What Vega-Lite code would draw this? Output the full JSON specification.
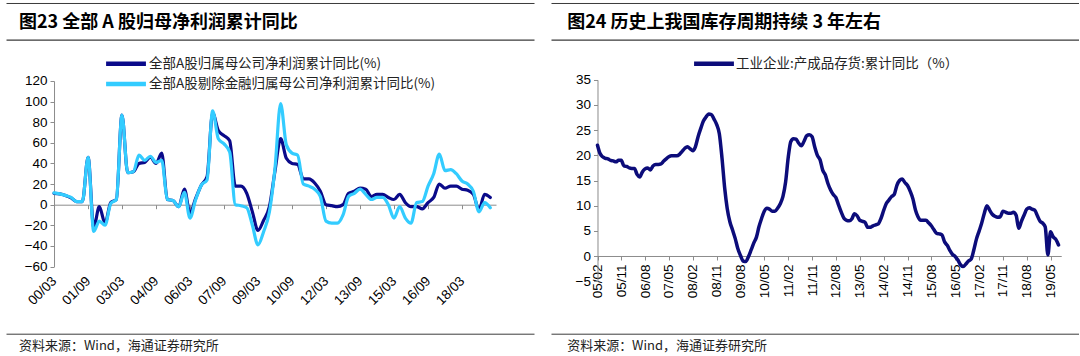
{
  "$schema": "https://vega.github.io/schema/vega-lite/v6.json",
  "padding": {"left": 3, "top": 3, "right": 0, "bottom": 0},
  "background": "#ffffff",
  "config": {
    "view": {"stroke": null},
    "axis": {"labelFont": "Liberation Sans", "labelFontSize": 13.5, "labelColor": "#000000", "grid": false, "domainColor": "#8c8c8c", "tickColor": "#8c8c8c"},
    "legend": {"labelFont": "Noto Sans CJK SC", "labelFontSize": 13.5, "labelColor": "#222222", "padding": 0, "labelLimit": 0}
  },
  "resolve": {"scale": {"color": "independent"}},
  "spacing": 14,
  "datasets": {
    "left": [
      {"d": "2000-03", "a": 11, "b": 11.5}, {"d": "2000-06", "a": 10.5, "b": 10.5}, {"d": "2000-09", "a": 9, "b": 9}, {"d": "2000-12", "a": 6.5, "b": 7},
      {"d": "2001-03", "a": 3, "b": 3}, {"d": "2001-06", "a": 3, "b": 3}, {"d": "2001-09", "a": 46, "b": 46}, {"d": "2001-12", "a": -22, "b": -26},
      {"d": "2002-03", "a": -2, "b": -16}, {"d": "2002-06", "a": -18, "b": -20}, {"d": "2002-09", "a": 2, "b": 1}, {"d": "2002-12", "a": 5, "b": 5},
      {"d": "2003-03", "a": 87, "b": 87}, {"d": "2003-06", "a": 31, "b": 31}, {"d": "2003-09", "a": 32, "b": 32}, {"d": "2003-12", "a": 40, "b": 48},
      {"d": "2004-03", "a": 41, "b": 43}, {"d": "2004-06", "a": 46, "b": 47}, {"d": "2004-09", "a": 40, "b": 41}, {"d": "2004-12", "a": 50, "b": 43},
      {"d": "2005-03", "a": 5, "b": 5}, {"d": "2005-06", "a": 4, "b": 4}, {"d": "2005-09", "a": -2, "b": -2}, {"d": "2005-12", "a": 15, "b": 12},
      {"d": "2006-03", "a": -8, "b": -13}, {"d": "2006-06", "a": 6, "b": 5}, {"d": "2006-09", "a": 19, "b": 19}, {"d": "2006-12", "a": 27, "b": 24},
      {"d": "2007-03", "a": 89, "b": 91}, {"d": "2007-06", "a": 72, "b": 64}, {"d": "2007-09", "a": 67, "b": 59}, {"d": "2007-12", "a": 62, "b": 51},
      {"d": "2008-03", "a": 18, "b": 0}, {"d": "2008-06", "a": 18, "b": -1}, {"d": "2008-09", "a": 11, "b": -3}, {"d": "2008-12", "a": -7, "b": -20},
      {"d": "2009-03", "a": -25, "b": -39}, {"d": "2009-06", "a": -15, "b": -26}, {"d": "2009-09", "a": -2, "b": -7}, {"d": "2009-12", "a": 33, "b": 36},
      {"d": "2010-03", "a": 64, "b": 98}, {"d": "2010-06", "a": 45, "b": 58}, {"d": "2010-09", "a": 40, "b": 50}, {"d": "2010-12", "a": 39, "b": 48},
      {"d": "2011-03", "a": 25, "b": 20}, {"d": "2011-06", "a": 25, "b": 18}, {"d": "2011-09", "a": 21, "b": 15}, {"d": "2011-12", "a": 13, "b": 8},
      {"d": "2012-03", "a": 0, "b": -16}, {"d": "2012-06", "a": -1, "b": -18}, {"d": "2012-09", "a": -2, "b": -18}, {"d": "2012-12", "a": 0, "b": -10},
      {"d": "2013-03", "a": 11, "b": 8}, {"d": "2013-06", "a": 13, "b": 11}, {"d": "2013-09", "a": 16, "b": 15}, {"d": "2013-12", "a": 15, "b": 10},
      {"d": "2014-03", "a": 8, "b": 5}, {"d": "2014-06", "a": 10, "b": 7}, {"d": "2014-09", "a": 10, "b": 7}, {"d": "2014-12", "a": 7, "b": 0},
      {"d": "2015-03", "a": 5, "b": -13}, {"d": "2015-06", "a": 10, "b": -2}, {"d": "2015-09", "a": 2, "b": -13}, {"d": "2015-12", "a": -2, "b": -18},
      {"d": "2016-03", "a": -2, "b": 2}, {"d": "2016-06", "a": -4, "b": 3}, {"d": "2016-09", "a": 2, "b": 18}, {"d": "2016-12", "a": 7, "b": 30},
      {"d": "2017-03", "a": 20, "b": 49}, {"d": "2017-06", "a": 16, "b": 33}, {"d": "2017-09", "a": 18, "b": 34}, {"d": "2017-12", "a": 18, "b": 30},
      {"d": "2018-03", "a": 15, "b": 23}, {"d": "2018-06", "a": 14, "b": 20}, {"d": "2018-09", "a": 10, "b": 13}, {"d": "2018-12", "a": -5, "b": -7},
      {"d": "2019-03", "a": 10, "b": 2}, {"d": "2019-06", "a": 7, "b": -3}
    ],
    "right": [
      {"d": "2005-02", "v": 22.0}, {"d": "2005-03", "v": 20.4}, {"d": "2005-04", "v": 19.7}, {"d": "2005-05", "v": 19.4}, {"d": "2005-06", "v": 19.3}, {"d": "2005-07", "v": 19.0}, {"d": "2005-08", "v": 18.9}, {"d": "2005-09", "v": 18.7}, {"d": "2005-10", "v": 19.0}, {"d": "2005-11", "v": 19.0}, {"d": "2005-12", "v": 17.9},
      {"d": "2006-01", "v": 17.8}, {"d": "2006-02", "v": 17.5}, {"d": "2006-03", "v": 17.4}, {"d": "2006-04", "v": 17.4}, {"d": "2006-05", "v": 16.2}, {"d": "2006-06", "v": 15.7}, {"d": "2006-07", "v": 16.7}, {"d": "2006-08", "v": 17.3}, {"d": "2006-09", "v": 17.5}, {"d": "2006-10", "v": 17.1}, {"d": "2006-11", "v": 17.9}, {"d": "2006-12", "v": 18.2},
      {"d": "2007-01", "v": 18.2}, {"d": "2007-02", "v": 18.3}, {"d": "2007-03", "v": 18.8}, {"d": "2007-04", "v": 19.3}, {"d": "2007-05", "v": 19.7}, {"d": "2007-06", "v": 19.9}, {"d": "2007-07", "v": 19.9}, {"d": "2007-08", "v": 19.9}, {"d": "2007-09", "v": 20.2}, {"d": "2007-10", "v": 20.8}, {"d": "2007-11", "v": 21.4}, {"d": "2007-12", "v": 21.7},
      {"d": "2008-01", "v": 21.3}, {"d": "2008-02", "v": 20.9}, {"d": "2008-03", "v": 21.7}, {"d": "2008-04", "v": 23.7}, {"d": "2008-05", "v": 25.3}, {"d": "2008-06", "v": 26.8}, {"d": "2008-07", "v": 27.6}, {"d": "2008-08", "v": 28.2}, {"d": "2008-09", "v": 28.1}, {"d": "2008-10", "v": 27.2}, {"d": "2008-11", "v": 26.1}, {"d": "2008-12", "v": 24.3},
      {"d": "2009-01", "v": 19.4}, {"d": "2009-02", "v": 13.4}, {"d": "2009-03", "v": 9.5}, {"d": "2009-04", "v": 6.8}, {"d": "2009-05", "v": 5.2}, {"d": "2009-06", "v": 3.5}, {"d": "2009-07", "v": 1.5}, {"d": "2009-08", "v": 0.1}, {"d": "2009-09", "v": -1.0}, {"d": "2009-10", "v": -1.1}, {"d": "2009-11", "v": -0.1}, {"d": "2009-12", "v": 1.2},
      {"d": "2010-01", "v": 2.6}, {"d": "2010-02", "v": 3.8}, {"d": "2010-03", "v": 5.8}, {"d": "2010-04", "v": 7.5}, {"d": "2010-05", "v": 8.9}, {"d": "2010-06", "v": 9.5}, {"d": "2010-07", "v": 9.3}, {"d": "2010-08", "v": 8.9}, {"d": "2010-09", "v": 8.9}, {"d": "2010-10", "v": 9.5}, {"d": "2010-11", "v": 10.4}, {"d": "2010-12", "v": 11.8},
      {"d": "2011-01", "v": 14.7}, {"d": "2011-02", "v": 19.7}, {"d": "2011-03", "v": 22.7}, {"d": "2011-04", "v": 23.3}, {"d": "2011-05", "v": 23.2}, {"d": "2011-06", "v": 22.4}, {"d": "2011-07", "v": 21.9}, {"d": "2011-08", "v": 22.8}, {"d": "2011-09", "v": 23.9}, {"d": "2011-10", "v": 24.1}, {"d": "2011-11", "v": 23.7}, {"d": "2011-12", "v": 21.7},
      {"d": "2012-01", "v": 20.0}, {"d": "2012-02", "v": 19.1}, {"d": "2012-03", "v": 17.1}, {"d": "2012-04", "v": 16.1}, {"d": "2012-05", "v": 14.4}, {"d": "2012-06", "v": 13.1}, {"d": "2012-07", "v": 12.2}, {"d": "2012-08", "v": 11.6}, {"d": "2012-09", "v": 10.1}, {"d": "2012-10", "v": 8.7}, {"d": "2012-11", "v": 7.5}, {"d": "2012-12", "v": 7.1},
      {"d": "2013-01", "v": 7.0}, {"d": "2013-02", "v": 7.4}, {"d": "2013-03", "v": 8.4}, {"d": "2013-04", "v": 8.0}, {"d": "2013-05", "v": 7.1}, {"d": "2013-06", "v": 6.9}, {"d": "2013-07", "v": 6.7}, {"d": "2013-08", "v": 5.7}, {"d": "2013-09", "v": 5.7}, {"d": "2013-10", "v": 6.0}, {"d": "2013-11", "v": 6.2}, {"d": "2013-12", "v": 6.4},
      {"d": "2014-01", "v": 7.5}, {"d": "2014-02", "v": 9.1}, {"d": "2014-03", "v": 10.4}, {"d": "2014-04", "v": 11.1}, {"d": "2014-05", "v": 11.8}, {"d": "2014-06", "v": 12.2}, {"d": "2014-07", "v": 14.0}, {"d": "2014-08", "v": 15.0}, {"d": "2014-09", "v": 15.3}, {"d": "2014-10", "v": 14.6}, {"d": "2014-11", "v": 14.0}, {"d": "2014-12", "v": 12.9},
      {"d": "2015-01", "v": 11.4}, {"d": "2015-02", "v": 9.1}, {"d": "2015-03", "v": 7.8}, {"d": "2015-04", "v": 7.1}, {"d": "2015-05", "v": 7.1}, {"d": "2015-06", "v": 7.1}, {"d": "2015-07", "v": 6.6}, {"d": "2015-08", "v": 6.0}, {"d": "2015-09", "v": 5.2}, {"d": "2015-10", "v": 4.5}, {"d": "2015-11", "v": 4.4}, {"d": "2015-12", "v": 4.2},
      {"d": "2016-01", "v": 2.8}, {"d": "2016-02", "v": 2.1}, {"d": "2016-03", "v": 1.1}, {"d": "2016-04", "v": 0.3}, {"d": "2016-05", "v": -0.1}, {"d": "2016-06", "v": -0.8}, {"d": "2016-07", "v": -1.7}, {"d": "2016-08", "v": -2.1}, {"d": "2016-09", "v": -1.6}, {"d": "2016-10", "v": -1.0}, {"d": "2016-11", "v": -0.6}, {"d": "2016-12", "v": 1.2},
      {"d": "2017-01", "v": 3.4}, {"d": "2017-02", "v": 5.0}, {"d": "2017-03", "v": 6.5}, {"d": "2017-04", "v": 8.5}, {"d": "2017-05", "v": 10.0}, {"d": "2017-06", "v": 9.1}, {"d": "2017-07", "v": 8.3}, {"d": "2017-08", "v": 7.9}, {"d": "2017-09", "v": 7.7}, {"d": "2017-10", "v": 7.8}, {"d": "2017-11", "v": 8.9}, {"d": "2017-12", "v": 8.7},
      {"d": "2018-01", "v": 8.5}, {"d": "2018-02", "v": 8.5}, {"d": "2018-03", "v": 8.7}, {"d": "2018-04", "v": 8.1}, {"d": "2018-05", "v": 5.5}, {"d": "2018-06", "v": 6.9}, {"d": "2018-07", "v": 8.1}, {"d": "2018-08", "v": 9.3}, {"d": "2018-09", "v": 9.6}, {"d": "2018-10", "v": 9.3}, {"d": "2018-11", "v": 9.1}, {"d": "2018-12", "v": 8.0},
      {"d": "2019-01", "v": 6.9}, {"d": "2019-02", "v": 6.5}, {"d": "2019-03", "v": 5.8}, {"d": "2019-04", "v": 0.2}, {"d": "2019-05", "v": 4.8}, {"d": "2019-06", "v": 3.8}, {"d": "2019-07", "v": 3.3}, {"d": "2019-08", "v": 2.2}
    ],
    "frame": [{"f": 0}]
  },
  "hconcat": [
    {
      "width": 528,
      "height": 330.7,
      "resolve": {"scale": {"x": "independent"}, "axis": {"x": "independent"}},
      "layer": [
        {
          "data": {"name": "left"},
          "transform": [{"fold": ["a", "b"], "as": ["k", "val"]}],
          "mark": {"type": "line", "interpolate": "monotone", "strokeWidth": 3.2, "strokeCap": "round", "strokeJoin": "round"},
          "encoding": {
            "x": {
              "field": "d", "type": "temporal",
              "scale": {"type": "utc", "domain": [{"year": 2000, "month": 3, "date": 1, "utc": true}, {"year": 2019, "month": 9, "date": 1, "utc": true}], "range": [48, 490]},
              "axis": {
                "orient": "bottom", "offset": -67.2, "domain": false, "ticks": false, "title": null,
                "format": "%y/%m", "labelAngle": -45, "labelAlign": "right", "labelBaseline": "middle", "labelPadding": 12,
                "values": [
                  {"year": 2000, "month": 3, "date": 1, "utc": true}, {"year": 2001, "month": 9, "date": 1, "utc": true},
                  {"year": 2003, "month": 3, "date": 1, "utc": true}, {"year": 2004, "month": 9, "date": 1, "utc": true},
                  {"year": 2006, "month": 3, "date": 1, "utc": true}, {"year": 2007, "month": 9, "date": 1, "utc": true},
                  {"year": 2009, "month": 3, "date": 1, "utc": true}, {"year": 2010, "month": 9, "date": 1, "utc": true},
                  {"year": 2012, "month": 3, "date": 1, "utc": true}, {"year": 2013, "month": 9, "date": 1, "utc": true},
                  {"year": 2015, "month": 3, "date": 1, "utc": true}, {"year": 2016, "month": 9, "date": 1, "utc": true},
                  {"year": 2018, "month": 3, "date": 1, "utc": true}
                ]
              }
            },
            "y": {
              "field": "val", "type": "quantitative",
              "scale": {"domain": [-60, 120], "range": [263.5, 78], "nice": false, "zero": false},
              "axis": {"offset": -48, "values": [-60, -40, -20, 0, 20, 40, 60, 80, 100, 120], "tickSize": 4, "labelPadding": 3, "title": null}
            },
            "color": {
              "field": "k", "type": "nominal",
              "scale": {"domain": ["a", "b"], "range": ["#0a0a8a", "#33ccff"]},
              "legend": {
                "orient": "none", "legendX": 109, "legendY": 49.7, "title": null, "direction": "vertical",
                "symbolType": "M-2.3,0H2.3", "symbolSize": 300, "symbolStrokeWidth": 4.5, "labelOffset": 12, "rowPadding": 0.3,
                "labelExpr": "datum.value == 'a' ? '全部A股归属母公司净利润累计同比(%)' : '全部A股剔除金融归属母公司净利润累计同比(%)'"
              }
            }
          }
        },
        {
          "data": {"name": "left"},
          "mark": {"type": "point", "opacity": 0},
          "encoding": {
            "x": {
              "field": "d", "type": "temporal",
              "scale": {"type": "utc", "domain": [{"year": 2000, "month": 3, "date": 1, "utc": true}, {"year": 2019, "month": 9, "date": 1, "utc": true}], "range": [48, 490]},
              "axis": {
                "orient": "bottom", "offset": -129, "labels": false, "tickSize": 4, "title": null,
                "values": [
                  {"year": 2000, "month": 3, "date": 1, "utc": true}, {"year": 2001, "month": 9, "date": 1, "utc": true},
                  {"year": 2003, "month": 3, "date": 1, "utc": true}, {"year": 2004, "month": 9, "date": 1, "utc": true},
                  {"year": 2006, "month": 3, "date": 1, "utc": true}, {"year": 2007, "month": 9, "date": 1, "utc": true},
                  {"year": 2009, "month": 3, "date": 1, "utc": true}, {"year": 2010, "month": 9, "date": 1, "utc": true},
                  {"year": 2012, "month": 3, "date": 1, "utc": true}, {"year": 2013, "month": 9, "date": 1, "utc": true},
                  {"year": 2015, "month": 3, "date": 1, "utc": true}, {"year": 2016, "month": 9, "date": 1, "utc": true},
                  {"year": 2018, "month": 3, "date": 1, "utc": true}
                ]
              }
            }
          }
        },
        {
          "data": {"name": "frame"},
          "mark": {"type": "point", "opacity": 0},
          "encoding": {"x": {"field": "f", "type": "quantitative", "scale": {"domain": [0, 1]},
            "axis": {"orient": "top", "offset": 0, "labels": false, "ticks": false, "title": null, "domainColor": "#3a3a3a", "domainWidth": 1}}}
        },
        {
          "data": {"name": "frame"},
          "mark": {"type": "point", "opacity": 0},
          "encoding": {"x": {"field": "f", "type": "quantitative", "scale": {"domain": [0, 1]},
            "axis": {"orient": "top", "offset": -36.6, "labels": false, "ticks": false, "domainColor": "#3a3a3a", "domainWidth": 1.3,
              "title": "图23 全部 A 股归母净利润累计同比", "titleX": 12.5, "titleY": -17, "titleAlign": "left", "titleBaseline": "middle", "titleAngle": 0,
              "titleFont": "Noto Sans CJK SC", "titleFontSize": 18, "titleFontWeight": "bold", "titleColor": "#000000"}}}
        },
        {
          "data": {"name": "frame"},
          "mark": {"type": "point", "opacity": 0},
          "encoding": {"x": {"field": "f", "type": "quantitative", "scale": {"domain": [0, 1]},
            "axis": {"orient": "bottom", "offset": 0, "labels": false, "ticks": false, "domainColor": "#3a3a3a", "domainWidth": 1,
              "title": "资料来源：Wind，海通证券研究所", "titleX": 12.5, "titleY": 11.5, "titleAlign": "left", "titleBaseline": "middle", "titleAngle": 0,
              "titleFont": "Noto Sans CJK SC", "titleFontSize": 13, "titleFontWeight": "normal", "titleColor": "#222222"}}}
        }
      ]
    },
    {
      "width": 528,
      "height": 330.7,
      "resolve": {"scale": {"x": "independent"}, "axis": {"x": "independent"}},
      "layer": [
        {
          "data": {"name": "right"},
          "transform": [{"fold": ["v"], "as": ["k", "val"]}],
          "mark": {"type": "line", "interpolate": "monotone", "strokeWidth": 3.5, "strokeCap": "round", "strokeJoin": "round"},
          "encoding": {
            "x": {
              "field": "d", "type": "temporal",
              "scale": {"type": "utc", "domain": [{"year": 2005, "month": 2, "date": 1, "utc": true}, {"year": 2019, "month": 9, "date": 1, "utc": true}], "range": [46.5, 510.25]},
              "axis": {
                "orient": "bottom", "offset": -77.7, "tickSize": 4, "title": null,
                "format": "%y/%m", "labelAngle": -90, "labelAlign": "right", "labelBaseline": "middle", "labelPadding": 4,
                "values": [
                  {"year": 2005, "month": 2, "date": 1, "utc": true}, {"year": 2005, "month": 11, "date": 1, "utc": true},
                  {"year": 2006, "month": 8, "date": 1, "utc": true}, {"year": 2007, "month": 5, "date": 1, "utc": true},
                  {"year": 2008, "month": 2, "date": 1, "utc": true}, {"year": 2008, "month": 11, "date": 1, "utc": true},
                  {"year": 2009, "month": 8, "date": 1, "utc": true}, {"year": 2010, "month": 5, "date": 1, "utc": true},
                  {"year": 2011, "month": 2, "date": 1, "utc": true}, {"year": 2011, "month": 11, "date": 1, "utc": true},
                  {"year": 2012, "month": 8, "date": 1, "utc": true}, {"year": 2013, "month": 5, "date": 1, "utc": true},
                  {"year": 2014, "month": 2, "date": 1, "utc": true}, {"year": 2014, "month": 11, "date": 1, "utc": true},
                  {"year": 2015, "month": 8, "date": 1, "utc": true}, {"year": 2016, "month": 5, "date": 1, "utc": true},
                  {"year": 2017, "month": 2, "date": 1, "utc": true}, {"year": 2017, "month": 11, "date": 1, "utc": true},
                  {"year": 2018, "month": 8, "date": 1, "utc": true}, {"year": 2019, "month": 5, "date": 1, "utc": true}
                ]
              }
            },
            "y": {
              "field": "val", "type": "quantitative",
              "scale": {"domain": [-5, 35], "range": [278.2, 76.8], "nice": false, "zero": false},
              "axis": {"offset": -46.5, "values": [-5, 0, 5, 10, 15, 20, 25, 30, 35], "tickSize": 4, "labelPadding": 3, "title": null}
            },
            "color": {
              "field": "k", "type": "nominal",
              "scale": {"domain": ["v"], "range": ["#0c0c7a"]},
              "legend": {
                "orient": "none", "legendX": 152, "legendY": 49.7, "title": null,
                "symbolType": "M-2.3,0H2.3", "symbolSize": 300, "symbolStrokeWidth": 4.5, "labelOffset": 11,
                "labelExpr": "'工业企业:产成品存货:累计同比（%）'"
              }
            }
          }
        },
        {
          "data": {"name": "frame"},
          "mark": {"type": "point", "opacity": 0},
          "encoding": {"x": {"field": "f", "type": "quantitative", "scale": {"domain": [0, 1]},
            "axis": {"orient": "top", "offset": 0, "labels": false, "ticks": false, "title": null, "domainColor": "#3a3a3a", "domainWidth": 1}}}
        },
        {
          "data": {"name": "frame"},
          "mark": {"type": "point", "opacity": 0},
          "encoding": {"x": {"field": "f", "type": "quantitative", "scale": {"domain": [0, 1]},
            "axis": {"orient": "top", "offset": -36.6, "labels": false, "ticks": false, "domainColor": "#3a3a3a", "domainWidth": 1.3,
              "title": "图24 历史上我国库存周期持续 3 年左右", "titleX": 15.7, "titleY": -17, "titleAlign": "left", "titleBaseline": "middle", "titleAngle": 0,
              "titleFont": "Noto Sans CJK SC", "titleFontSize": 18, "titleFontWeight": "bold", "titleColor": "#000000"}}}
        },
        {
          "data": {"name": "frame"},
          "mark": {"type": "point", "opacity": 0},
          "encoding": {"x": {"field": "f", "type": "quantitative", "scale": {"domain": [0, 1]},
            "axis": {"orient": "bottom", "offset": 0, "labels": false, "ticks": false, "domainColor": "#3a3a3a", "domainWidth": 1,
              "title": "资料来源：Wind，海通证券研究所", "titleX": 15.7, "titleY": 11.5, "titleAlign": "left", "titleBaseline": "middle", "titleAngle": 0,
              "titleFont": "Noto Sans CJK SC", "titleFontSize": 13, "titleFontWeight": "normal", "titleColor": "#222222"}}}
        }
      ]
    }
  ]
}
